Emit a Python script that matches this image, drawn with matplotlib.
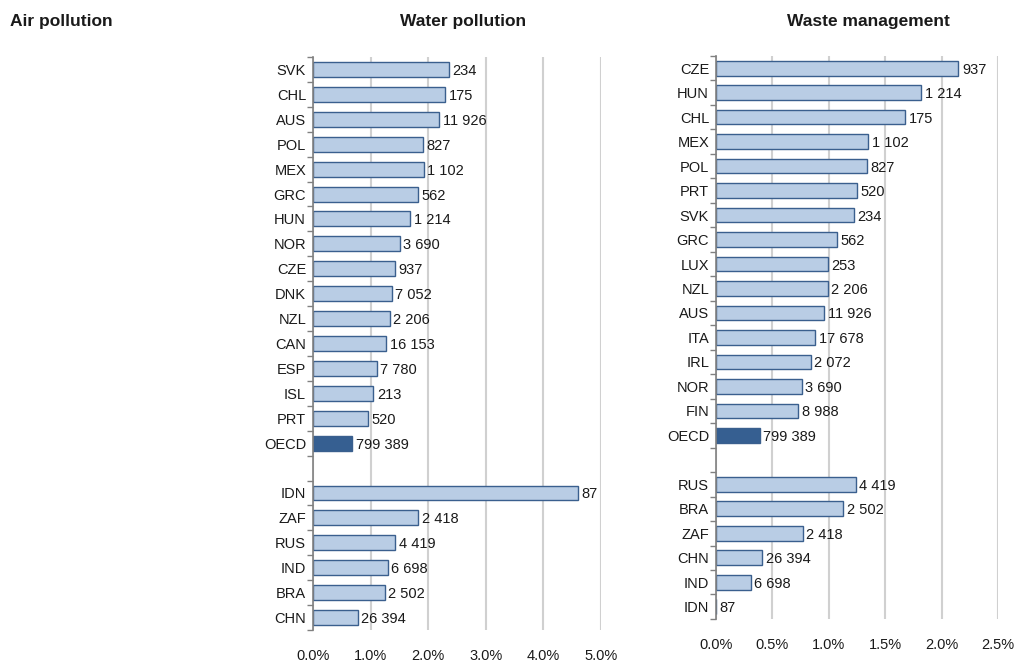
import matplotlib
matplotlib.use("Agg")
import matplotlib.pyplot as plt
import numpy as np
from matplotlib import font_manager

# ── data ─────────────────────────────────────────────────────────────────────
WATER_LABELS = ["SVK", "CHL", "AUS", "POL", "MEX", "GRC", "HUN", "NOR", "CZE", "DNK",
                "NZL", "CAN", "ESP", "ISL", "PRT", "OECD",
                "IDN", "ZAF", "RUS", "IND", "BRA", "CHN"]
WATER_SHARE = [2.36, 2.29, 2.19, 1.91, 1.92, 1.83, 1.69, 1.51, 1.43, 1.37,
               1.33, 1.27, 1.11, 1.05, 0.95, 0.68,
               4.60, 1.83, 1.43, 1.30, 1.25, 0.78]
WATER_POP = [234, 175, 11926, 827, 1102, 562, 1214, 3690, 937, 7052,
             2206, 16153, 7780, 213, 520, 799389,
             87, 2418, 4419, 6698, 2502, 26394]

WASTE_LABELS = ["CZE", "HUN", "CHL", "MEX", "POL", "PRT", "SVK", "GRC", "LUX", "NZL",
                "AUS", "ITA", "IRL", "NOR", "FIN", "OECD",
                "RUS", "BRA", "ZAF", "CHN", "IND", "IDN"]
WASTE_SHARE = [2.15, 1.82, 1.68, 1.35, 1.34, 1.25, 1.22, 1.07, 0.99, 0.99,
               0.96, 0.88, 0.84, 0.76, 0.73, 0.39,
               1.24, 1.13, 0.77, 0.41, 0.31, 0.0]
WASTE_POP = [937, 1214, 175, 1102, 827, 520, 234, 562, 253, 2206,
             11926, 17678, 2072, 3690, 8988, 799389,
             4419, 2502, 2418, 26394, 6698, 87]

N_OECD = 16  # first 16 rows are OECD members + OECD average, then a blank row

# ── style ────────────────────────────────────────────────────────────────────
LIGHT = "#B9CDE5"
EDGE = "#3A5F8E"
DARK = "#365F91"
GRID = "#D0D0D0"
TXT = "#1A1A1A"

names = {f.name for f in font_manager.fontManager.ttflist}
FONT = next((f for f in ["Liberation Sans Narrow", "Liberation Sans", "Arimo"] if f in names),
            "DejaVu Sans")
plt.rcParams["font.family"] = [FONT, "DejaVu Sans"]


def fmt(n):
    return f"{n:,}".replace(",", " ")


def panel(ax, labels, shares, pops, xmax, step, xpad):
    pos = [i if i < N_OECD else i + 1 for i in range(len(labels))]
    colors = [DARK if lab == "OECD" else LIGHT for lab in labels]
    ax.barh(pos, shares, height=0.6, color=colors, edgecolor=EDGE, linewidth=1.0, zorder=3)
    for p, s, n in zip(pos, shares, pops):
        ax.annotate(fmt(n), (s, p), xytext=(2.5, 0), textcoords="offset points",
                    ha="left", va="center_baseline", fontsize=10.5, color=TXT, zorder=4)

    n_rows = len(labels) + 1
    ax.set_ylim(n_rows - 0.5, -0.5)
    ax.set_xlim(0, xmax)
    ax.set_yticks(pos)
    ax.set_yticklabels(labels, fontsize=10.5, color=TXT, va="center_baseline")
    ax.set_yticks(np.arange(-0.5, n_rows, 1.0), minor=True)
    ax.tick_params(axis="y", which="major", length=0, pad=5)
    ax.tick_params(axis="y", which="minor", length=4, color="#808080", width=1)

    ticks = np.arange(0, xmax + step / 2, step)
    ax.set_xticks(ticks)
    ax.set_xticklabels([f"{t:.1f}%" for t in ticks], fontsize=10.5, color=TXT)
    ax.tick_params(axis="x", length=0, pad=xpad)
    ax.grid(axis="x", color=GRID, linewidth=1.5, zorder=0)
    for sp in ["top", "right", "bottom"]:
        ax.spines[sp].set_visible(False)
    ax.spines["left"].set_color("#808080")
    ax.spines["left"].set_linewidth(1.2)
    ax.spines["left"].set_zorder(5)


fig = plt.figure(figsize=(10.15, 6.62), dpi=100)
fig.patch.set_facecolor("white")

ax_w = fig.add_axes([0.3084, 0.0483, 0.2837, 0.8656])
panel(ax_w, WATER_LABELS, WATER_SHARE, WATER_POP, 5.0, 1.0, 14)

ax_s = fig.add_axes([0.7054, 0.0650, 0.2778, 0.8505])
panel(ax_s, WASTE_LABELS, WASTE_SHARE, WASTE_POP, 2.5, 0.5, 14)

fig.text(0.010, 0.967, "Air pollution", fontsize=12.5, fontweight="bold",
         ha="left", va="center", color=TXT)
fig.text(0.456, 0.967, "Water pollution", fontsize=12.5, fontweight="bold",
         ha="center", va="center", color=TXT)
fig.text(0.856, 0.967, "Waste management", fontsize=12.5, fontweight="bold",
         ha="center", va="center", color=TXT)

fig.savefig("out.png", dpi=100, facecolor="white")
